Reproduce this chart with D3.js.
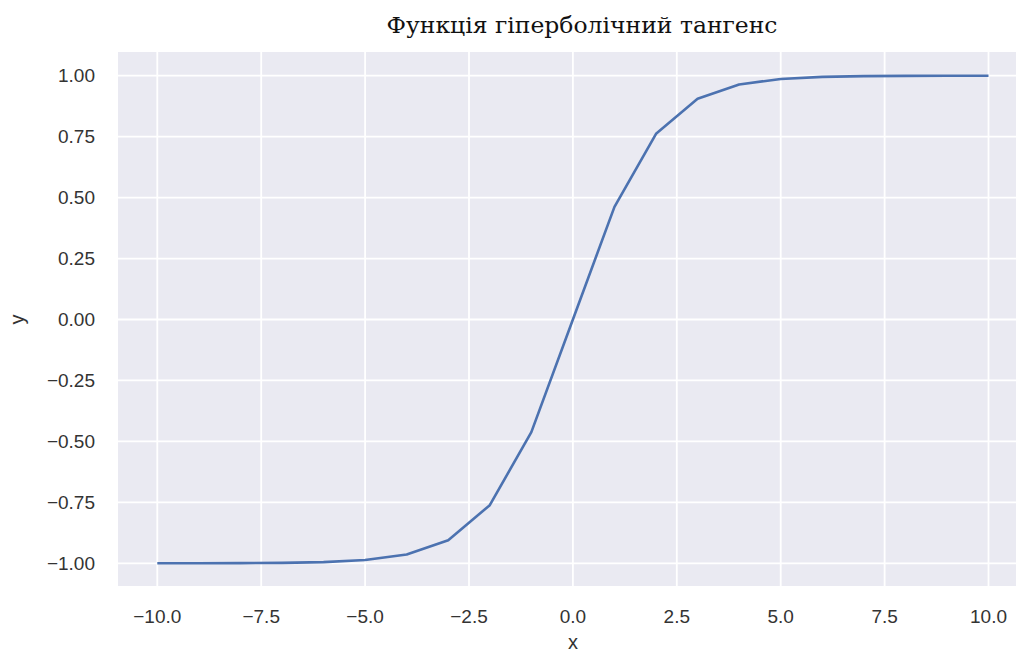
<!DOCTYPE html>
<html>
<head>
<meta charset="utf-8">
<script src="https://cdn.jsdelivr.net/npm/d3@7"></script>
<style>
  html, body { margin: 0; padding: 0; background: #ffffff; }
  svg { display: block; }
</style>
</head>
<body>
<svg id="chart" width="1016" height="652"></svg>
<script>
// ---- data ----
const xValues = [-10, -9, -8, -7, -6, -5, -4, -3, -2, -1, 0, 1, 2, 3, 4, 5, 6, 7, 8, 9, 10];
const yValues = [-0.9999, -0.9998, -0.9993, -0.9982, -0.9951, -0.9866, -0.9640, -0.9051, -0.7616, -0.4621,
                 0.0, 0.4621, 0.7616, 0.9051, 0.9640, 0.9866, 0.9951, 0.9982, 0.9993, 0.9998, 0.9999];
const xTicks = [-10, -7.5, -5, -2.5, 0, 2.5, 5, 7.5, 10];
const yTicks = [-1, -0.75, -0.5, -0.25, 0, 0.25, 0.5, 0.75, 1];
const title = "Функція гіперболічний тангенс";
const xLabel = "x";
const yLabel = "y";

// ---- layout ----
const svg = d3.select("#chart");
const plot = { left: 118, top: 52, right: 1016, bottom: 586 };

const x = d3.scaleLinear().domain([-10, 10]).range([157.3, 988.5]);
const y = d3.scaleLinear().domain([-1, 1]).range([563.3, 75.7]);

const fmtMinus = s => s.replace("-", "\u2212");

// background
svg.append("rect")
  .attr("x", plot.left).attr("y", plot.top)
  .attr("width", plot.right - plot.left).attr("height", plot.bottom - plot.top)
  .attr("fill", "#EAEAF2");

// grid
svg.append("g").selectAll("line").data(xTicks).join("line")
  .attr("x1", d => x(d)).attr("x2", d => x(d))
  .attr("y1", plot.top).attr("y2", plot.bottom)
  .attr("stroke", "#ffffff").attr("stroke-width", 1.8);
svg.append("g").selectAll("line").data(yTicks).join("line")
  .attr("y1", d => y(d)).attr("y2", d => y(d))
  .attr("x1", plot.left).attr("x2", plot.right)
  .attr("stroke", "#ffffff").attr("stroke-width", 1.8);

// tick labels
svg.append("g").selectAll("text").data(xTicks).join("text")
  .attr("x", d => x(d)).attr("y", 623)
  .attr("text-anchor", "middle")
  .attr("font-family", "Liberation Sans, Arial, sans-serif")
  .attr("font-size", 19).attr("fill", "#333333")
  .text(d => fmtMinus(d3.format(".1f")(d)));

svg.append("g").selectAll("text").data(yTicks).join("text")
  .attr("x", 95).attr("y", d => y(d))
  .attr("dy", "0.35em")
  .attr("text-anchor", "end")
  .attr("font-family", "Liberation Sans, Arial, sans-serif")
  .attr("font-size", 19).attr("fill", "#333333")
  .text(d => fmtMinus(d3.format(".2f")(d)));

// axis labels
svg.append("text")
  .attr("x", x(0)).attr("y", 649)
  .attr("text-anchor", "middle")
  .attr("font-family", "Liberation Sans, Arial, sans-serif")
  .attr("font-size", 20).attr("fill", "#333333")
  .text(xLabel);

svg.append("text")
  .attr("transform", `translate(24,${y(0)}) rotate(-90)`)
  .attr("text-anchor", "middle")
  .attr("font-family", "Liberation Sans, Arial, sans-serif")
  .attr("font-size", 20).attr("fill", "#333333")
  .text(yLabel);

// title
svg.append("text")
  .attr("x", 582).attr("y", 33)
  .attr("text-anchor", "middle")
  .attr("font-family", "DejaVu Serif, serif")
  .attr("font-size", 22).attr("fill", "#111111")
  .attr("textLength", 391).attr("lengthAdjust", "spacingAndGlyphs")
  .text(title);

// line
const pts = xValues.map((v, i) => [v, yValues[i]]);
svg.append("path")
  .datum(pts)
  .attr("fill", "none")
  .attr("stroke", "#4C72B0")
  .attr("stroke-width", 2.6)
  .attr("stroke-linejoin", "round")
  .attr("d", d3.line().x(d => x(d[0])).y(d => y(d[1])));
</script>
</body>
</html>
